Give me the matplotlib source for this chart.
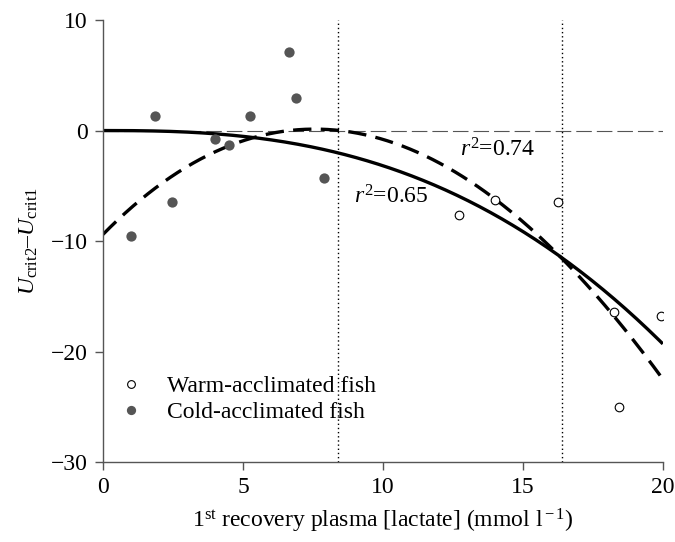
import numpy as np
import matplotlib
matplotlib.use('Agg')
import matplotlib.pyplot as plt

plt.rcParams['font.family'] = ['Liberation Serif', 'DejaVu Serif']
plt.rcParams['mathtext.fontset'] = 'custom'
plt.rcParams['mathtext.rm'] = 'Liberation Serif'
plt.rcParams['mathtext.it'] = 'Liberation Serif:italic'

# data
warm_x = [12.7, 14.0, 16.25, 18.25, 18.45, 19.95]
warm_y = [-7.6, -6.3, -6.5, -16.4, -25.0, -16.8]
cold_x = [1.0, 1.85, 2.45, 4.0, 4.5, 5.25, 6.65, 6.9, 7.9]
cold_y = [-9.5, 1.35, -6.5, -0.8, -1.3, 1.35, 7.1, 2.9, -4.3]

# regression curves (coefficients estimated from the figure)
solid_a, solid_n = -0.008, 2.6          # y = a * x**n, r2=0.65
dashed_coef = [0.001027, -0.1823, 2.58, -9.4]   # cubic, r2=0.74
vlines = [8.4, 16.4]

grey = '#555555'
fs = 17

fig = plt.figure(figsize=(6.75, 5.42), dpi=100)
ax = fig.add_axes([0.1526, 0.1476, 0.8294, 0.8154])

ax.axhline(0, color='#555555', lw=0.8, ls=(0, (14, 4.5)), zorder=1)
for xv in vlines:
    ax.axvline(xv, color='black', lw=1.0, ls=(0, (1, 2)), zorder=1)

xs = np.linspace(0, 20, 300)
ax.plot(xs, solid_a * xs ** solid_n, color='black', lw=2.4, solid_capstyle='butt', zorder=2)
ax.plot(xs, np.polyval(dashed_coef, xs), color='black', lw=2.4, ls=(0, (5.5, 2.8)), zorder=2)

ax.plot(warm_x, warm_y, 'o', ms=6.2, mfc='white', mec='black', mew=0.8,
        label='Warm-acclimated fish', zorder=3)
ax.plot(cold_x, cold_y, 'o', ms=7.4, mfc=grey, mec=grey, mew=0,
        label='Cold-acclimated fish', zorder=3)

ax.text(12.75, -1.75, '$r^2$=0.74', fontsize=fs, va='center', ha='left')
ax.text(8.95, -6.0, '$r^2$=0.65', fontsize=fs, va='center', ha='left')

ax.legend(loc='lower left', bbox_to_anchor=(0.034, 0.088), frameon=False, fontsize=fs,
          handlelength=0.8, handletextpad=1.1, labelspacing=0.2, markerscale=0.9,
          borderaxespad=0, borderpad=0)

ax.set_xlim(0, 20)
ax.set_ylim(-30, 10)
ax.set_xticks([0, 5, 10, 15, 20])
ax.set_yticks([-30, -20, -10, 0, 10])
ax.set_yticklabels(['\u221230', '\u221220', '\u221210', '0', '10'])
ax.set_xlabel('1$^{\\rm st}$ recovery plasma [lactate] (mmol l$^{\\rm \u22121}$)', fontsize=fs, labelpad=6)
ax.set_ylabel('$U_{\\rm crit2}$\u2013$U_{\\rm crit1}$', fontsize=fs, labelpad=8)

for s in ['top', 'right']:
    ax.spines[s].set_visible(False)
for s in ['left', 'bottom']:
    ax.spines[s].set_color(grey)
    ax.spines[s].set_linewidth(1.0)
ax.tick_params(direction='out', length=6, width=1.0, color=grey, labelsize=fs, pad=5)

fig.savefig('out.png', dpi=100)
